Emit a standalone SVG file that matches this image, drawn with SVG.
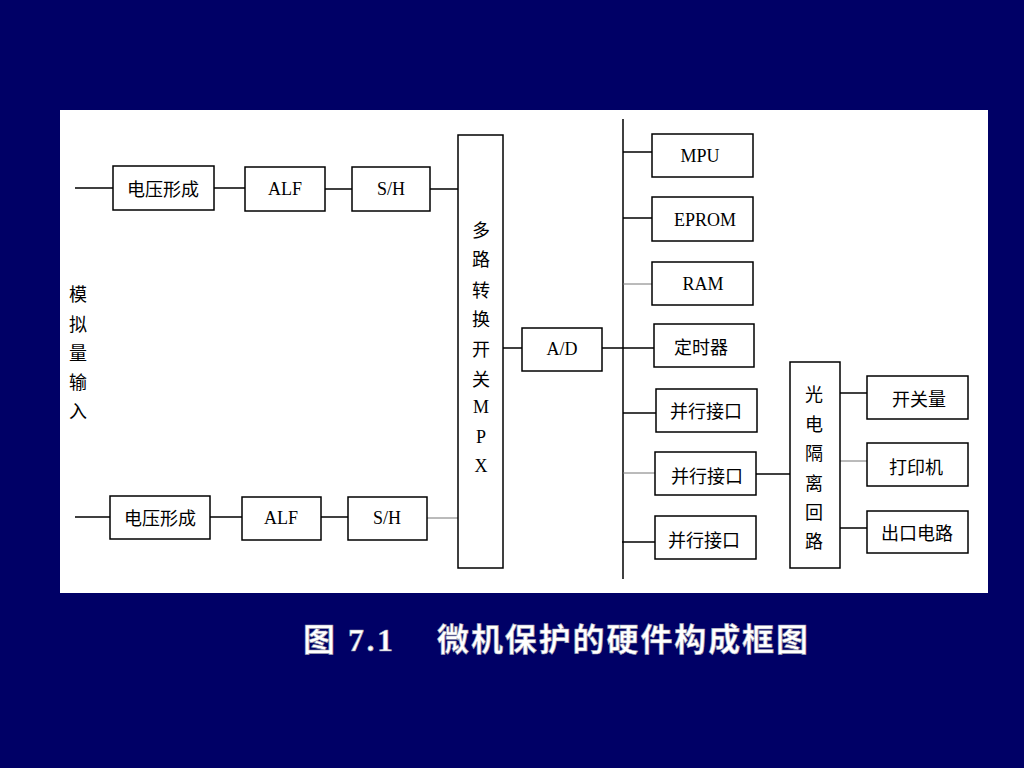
<svg xmlns="http://www.w3.org/2000/svg" width="1024" height="768" viewBox="0 0 1024 768">
<style>
.bx{fill:#fff;stroke:#000;stroke-width:1.5}
.ln{stroke:#000;stroke-width:1.5;fill:none}
.lg{stroke:#777;stroke-width:1;fill:none}
.t{font-family:"Liberation Serif","Noto Sans CJK SC",serif;font-size:18px;fill:#000;text-anchor:middle;dominant-baseline:central}
.c{font-family:"Noto Sans CJK SC",sans-serif;font-size:18px;fill:#000;text-anchor:middle;dominant-baseline:central}
.cap{font-family:"Liberation Serif","Noto Sans CJK SC",serif;font-size:32px;font-weight:bold;fill:#fff;stroke:#99a;stroke-width:0.6}
</style>
<rect x="0" y="0" width="1024" height="768" fill="#000066"/>
<rect x="60" y="110" width="928" height="483" fill="#fff"/>

<g id="connectors">
<line class="ln" x1="75" y1="188" x2="113" y2="188"/>
<line class="ln" x1="214" y1="188" x2="245" y2="188"/>
<line class="ln" x1="325" y1="189" x2="352" y2="189"/>
<line class="ln" x1="430" y1="189" x2="458" y2="189"/>
<line class="ln" x1="75" y1="517" x2="110" y2="517"/>
<line class="ln" x1="210" y1="517" x2="242" y2="517"/>
<line class="ln" x1="321" y1="517" x2="348" y2="517"/>
<line class="lg" x1="427" y1="518" x2="458" y2="518"/>
<line class="ln" x1="503" y1="348" x2="522" y2="348"/>
<line class="ln" x1="602" y1="348" x2="654" y2="348"/>
<line class="ln" x1="623" y1="119" x2="623" y2="579"/>
<line class="ln" x1="623" y1="152" x2="652" y2="152"/>
<line class="ln" x1="623" y1="218" x2="652" y2="218"/>
<line class="lg" x1="623" y1="284" x2="652" y2="284"/>
<line class="ln" x1="623" y1="413" x2="656" y2="413"/>
<line class="lg" x1="623" y1="473" x2="655" y2="473"/>
<line class="ln" x1="622" y1="542" x2="655" y2="542"/>
<line class="ln" x1="756" y1="474" x2="790" y2="474"/>
<line class="ln" x1="840" y1="393" x2="867" y2="393"/>
<line class="lg" x1="840" y1="461" x2="867" y2="461"/>
<line class="ln" x1="840" y1="528" x2="867" y2="528"/>
</g>

<g id="input-label">
<text class="c" x="78" y="293">模</text>
<text class="c" x="78" y="323">拟</text>
<text class="c" x="78" y="352">量</text>
<text class="c" x="78" y="381">输</text>
<text class="c" x="78" y="410">入</text>
</g>

<g id="vf1"><rect class="bx" x="113" y="166" width="101" height="44"/><text class="c" x="163" y="188">电压形成</text></g>
<g id="alf1"><rect class="bx" x="245" y="167" width="80" height="44"/><text class="t" x="285" y="189">ALF</text></g>
<g id="sh1"><rect class="bx" x="352" y="167" width="78" height="44"/><text class="t" x="391" y="189">S/H</text></g>

<g id="vf2"><rect class="bx" x="110" y="496" width="100" height="43"/><text class="c" x="160" y="517">电压形成</text></g>
<g id="alf2"><rect class="bx" x="242" y="497" width="79" height="43"/><text class="t" x="281" y="518">ALF</text></g>
<g id="sh2"><rect class="bx" x="348" y="497" width="79" height="43"/><text class="t" x="387" y="518">S/H</text></g>

<g id="mpx"><rect class="bx" x="458" y="135" width="45" height="433"/>
<text class="c" x="481" y="229">多</text>
<text class="c" x="481" y="258">路</text>
<text class="c" x="481" y="289">转</text>
<text class="c" x="481" y="318">换</text>
<text class="c" x="481" y="348">开</text>
<text class="c" x="481" y="378">关</text>
<text class="t" x="481" y="407">M</text>
<text class="t" x="481" y="437">P</text>
<text class="t" x="481" y="466">X</text>
</g>

<g id="ad"><rect class="bx" x="522" y="328" width="80" height="43"/><text class="t" x="562" y="349">A/D</text></g>

<g id="mpu"><rect class="bx" x="652" y="134" width="101" height="43"/><text class="t" x="700" y="156">MPU</text></g>
<g id="eprom"><rect class="bx" x="652" y="197" width="101" height="44"/><text class="t" x="705" y="220">EPROM</text></g>
<g id="ram"><rect class="bx" x="652" y="262" width="101" height="43"/><text class="t" x="703" y="284">RAM</text></g>
<g id="timer"><rect class="bx" x="654" y="324" width="100" height="43"/><text class="c" x="701" y="346">定时器</text></g>
<g id="pio1"><rect class="bx" x="656" y="389" width="101" height="43"/><text class="c" x="706" y="410">并行接口</text></g>
<g id="pio2"><rect class="bx" x="655" y="452" width="101" height="43"/><text class="c" x="707" y="475">并行接口</text></g>
<g id="pio3"><rect class="bx" x="655" y="516" width="101" height="43"/><text class="c" x="704" y="539">并行接口</text></g>

<g id="opto"><rect class="bx" x="790" y="362" width="50" height="206"/>
<text class="c" x="814" y="393">光</text>
<text class="c" x="814" y="423">电</text>
<text class="c" x="814" y="452">隔</text>
<text class="c" x="814" y="482">离</text>
<text class="c" x="814" y="511">回</text>
<text class="c" x="814" y="540">路</text>
</g>

<g id="switch"><rect class="bx" x="867" y="376" width="101" height="43"/><text class="c" x="919" y="398">开关量</text></g>
<g id="printer"><rect class="bx" x="867" y="443" width="101" height="43"/><text class="c" x="916" y="466">打印机</text></g>
<g id="output"><rect class="bx" x="867" y="511" width="101" height="42"/><text class="c" x="917" y="532">出口电路</text></g>

<g id="caption">
<text class="cap" x="303" y="651" textLength="90" lengthAdjust="spacing">图 7.1</text>
<text class="cap" x="437" y="651" textLength="371" lengthAdjust="spacing">微机保护的硬件构成框图</text>
</g>
</svg>
